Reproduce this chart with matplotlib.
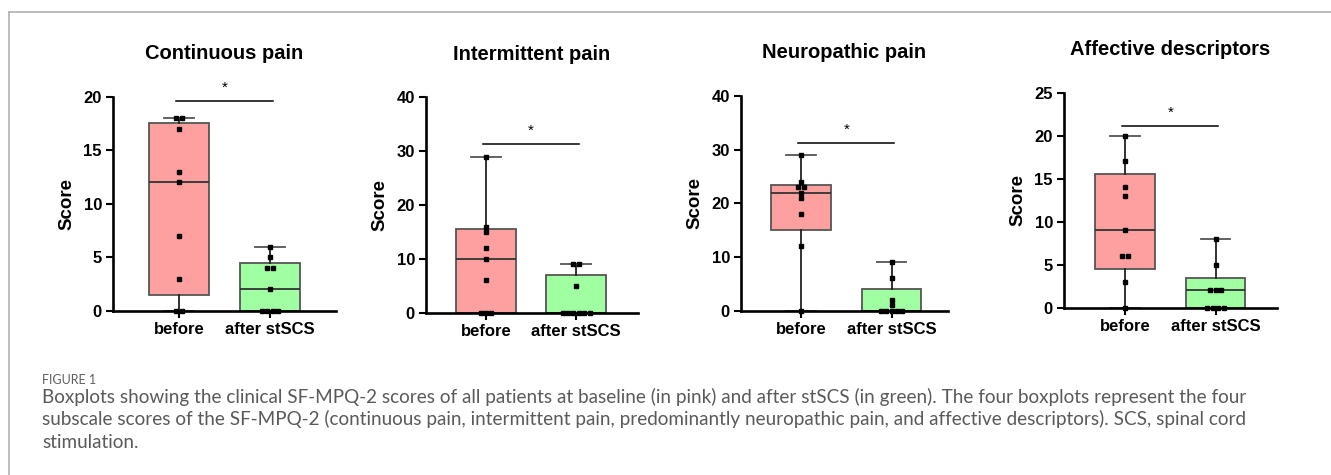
import numpy as np
import matplotlib
matplotlib.use("Agg")
import matplotlib.pyplot as plt
from matplotlib.lines import Line2D

# ---------------- data ----------------
categories = ["before", "after stSCS"]
titles = ["Continuous pain", "Intermittent pain", "Neuropathic pain", "Affective descriptors"]

continuous_before = [18, 18, 17, 13, 12, 7, 3, 0, 0]
continuous_after = [6, 5, 4, 4, 2, 0, 0, 0, 0]
intermittent_before = [29, 16, 15, 12, 10, 6, 0, 0, 0]
intermittent_after = [9, 9, 5, 0, 0, 0, 0, 0, 0]
neuropathic_before = [29, 24, 23, 23, 22, 21, 18, 12, 0]
neuropathic_after = [9, 6, 2, 1, 0, 0, 0, 0, 0]
affective_before = [20, 17, 14, 13, 9, 6, 6, 3, 0]
affective_after = [8, 5, 2, 2, 2, 0, 0, 0, 0]

y_max = [20, 40, 40, 25]
y_step = [5, 10, 10, 5]
sig_y = [19.6, 31.3, 31.2, 21.1]
sig_label = ["*", "*", "*", "*"]

caption_head = "FIGURE 1"
caption_lines = [
    "Boxplots showing the clinical SF-MPQ-2 scores of all patients at baseline (in pink) and after stSCS (in green). The four boxplots represent the four",
    "subscale scores of the SF-MPQ-2 (continuous pain, intermittent pain, predominantly neuropathic pain, and affective descriptors). SCS, spinal cord",
    "stimulation.",
]

groups = [
    (continuous_before, continuous_after),
    (intermittent_before, intermittent_after),
    (neuropathic_before, neuropathic_after),
    (affective_before, affective_after),
]

# ---------------- layout ----------------
W, H = 1331, 475
fig = plt.figure(figsize=(W / 100, H / 100), dpi=100)
plt.rcParams["font.family"] = ["Liberation Sans", "DejaVu Sans"]

# axes rectangles in pixels: (left, right, top, bottom)
rects_px = [(113, 336, 96.7, 310.7), (426, 638, 97.3, 312.7),
            (741, 948, 96.0, 310.7), (1064, 1277, 92.7, 307.7)]
centers_px = [(179, 270), (486, 576), (801, 891.5), (1125, 1215.5)]

box_colors = ["#ffa0a0", "#a0ffa0"]


def box_stats(vals):
    v = np.asarray(vals, dtype=float)
    q1, med, q3 = np.percentile(v, [25, 50, 75], method="weibull")
    return dict(med=med, q1=q1, q3=q3, whislo=v.min(), whishi=v.max(), fliers=[])


def tie_offsets(vals, step=0.06):
    v = np.asarray(vals, dtype=float)
    off = np.zeros(len(v))
    for u in np.unique(v):
        idx = np.where(v == u)[0]
        k = len(idx)
        off[idx] = (np.arange(k) - (k - 1) / 2) * step
    return off


for i, (before, after) in enumerate(groups):
    l, r, t, b = rects_px[i]
    ax = fig.add_axes([l / W, 1 - b / H, (r - l) / W, (b - t) / H])
    c0, c1 = centers_px[i]
    sp = c1 - c0
    ax.set_xlim((l - c0) / sp, (r - c0) / sp)
    ax.set_ylim(0, y_max[i])

    stats = [box_stats(before), box_stats(after)]
    bp = ax.bxp(stats, positions=[0, 1], widths=0.66, patch_artist=True,
                showfliers=False, capwidths=0.33,
                boxprops=dict(edgecolor="#555555", linewidth=1.3),
                medianprops=dict(color="#333333", linewidth=1.3),
                whiskerprops=dict(color="#222222", linewidth=1.3),
                capprops=dict(color="#555555", linewidth=1.3),
                manage_ticks=False)
    for patch, col in zip(bp["boxes"], box_colors):
        patch.set_facecolor(col)
    for art in bp["whiskers"] + bp["caps"] + bp["medians"]:
        art.set_clip_on(False)

    for pos, vals in enumerate((before, after)):
        xs = pos + tie_offsets(vals)
        ax.plot(xs, vals, linestyle="none", marker="s", markersize=2.2,
                color="black", zorder=5, clip_on=False)

    # significance
    ax.plot([-0.03, 1.03], [sig_y[i], sig_y[i]], color="black", linewidth=1.1,
            clip_on=False)
    ax.text(0.5, sig_y[i] + y_max[i] * 0.03, sig_label[i], ha="center",
            va="bottom", fontsize=11, clip_on=False)

    ax.spines["top"].set_visible(False)
    ax.spines["right"].set_visible(False)
    for s in ("left", "bottom"):
        ax.spines[s].set_linewidth(1.9)
    ax.set_yticks(np.arange(0, y_max[i] + 0.1, y_step[i]))
    ax.set_xticks([0, 1])
    ax.set_xticklabels(categories)
    ax.tick_params(axis="both", direction="out", length=5, width=1.5,
                   labelsize=12, pad=3)
    for lab in ax.get_xticklabels() + ax.get_yticklabels():
        lab.set_fontweight("bold")
    ax.set_ylabel("Score", fontsize=13.5, fontweight="bold", labelpad=6)
    ax.set_title(titles[i], fontsize=14.5, fontweight="bold", pad=27)
    ax.set_facecolor("none")

# frame lines
fig.add_artist(Line2D([9 / W, 1], [1 - 12 / H, 1 - 12 / H], transform=fig.transFigure,
                      color="#b0b0b0", linewidth=1.2))
fig.add_artist(Line2D([9 / W, 9 / W], [1 - 12 / H, 0], transform=fig.transFigure,
                      color="#b0b0b0", linewidth=1.2))

# caption
cap_font = ["Lato", "DejaVu Sans"]
fig.text(42 / W, 1 - 383.5 / H, caption_head, fontsize=9, color="#5f5f5f",
         family=cap_font, va="baseline", ha="left")
for k, line in enumerate(caption_lines):
    fig.text(42 / W, 1 - (402.5 + 22.7 * k) / H, line, fontsize=13.6, color="#5a5a5a",
             family=cap_font, fontweight="normal", va="baseline", ha="left")

fig.savefig("out.png", dpi=100)
